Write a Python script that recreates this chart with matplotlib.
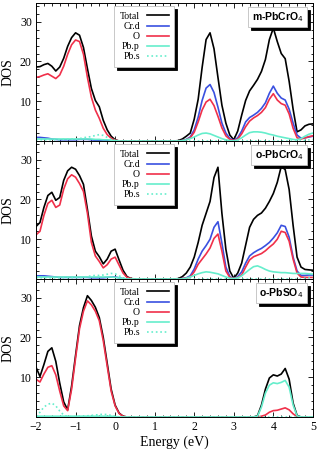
import numpy as np
import matplotlib
matplotlib.use("Agg")
import matplotlib.pyplot as plt
from matplotlib.ticker import MultipleLocator

plt.rcParams["font.family"] = "serif"
plt.rcParams["font.serif"] = ["Liberation Serif", "DejaVu Serif"]

# energy grid, -2.0 ... 5.0 eV every 0.1 eV
energy = np.round(np.linspace(-2.0, 5.0, 71), 1)

labels = ["Total", "Cr.d", "O", "Pb.p", "Pb.s"]
systems = ["m-PbCrO$_4$", "o-PbCrO$_4$", "o-PbSO$_4$"]

# ---- m-PbCrO4 ----
m_total = [18.6, 18.7, 19.2, 19.5, 18.8, 17.6, 18.6, 20.8, 23.8, 26.0,
           27.2, 26.6, 23.5, 18.2, 13.2, 10.2, 8.6, 5.2, 2.8, 1.2,
           0.3, 0, 0, 0, 0, 0, 0, 0, 0, 0,
           0, 0, 0, 0, 0, 0, 0.1, 0.5, 1.2, 2.0,
           5.5, 10.5, 18.5, 25.5, 27.2, 23.2, 16.0, 9.0, 4.5, 1.5,
           0.3, 2.5, 6.5, 10.2, 12.6, 14.0, 15.5, 17.5, 20.5, 25.5,
           28.4, 25.0, 22.0, 20.7, 15.0, 8.0, 2.3, 2.8, 3.8, 4.2, 4.3]
m_crd = [0.9, 0.9, 0.8, 0.7, 0.5, 0.4, 0.3, 0.3, 0.3, 0.3,
         0.3, 0.4, 0.4, 0.4, 0.3, 0.2, 0.2, 0.1, 0.1, 0,
         0, 0, 0, 0, 0, 0, 0, 0, 0, 0,
         0, 0, 0, 0, 0, 0, 0, 0.1, 0.4, 1.0,
         2.8, 6.0, 10.2, 13.3, 14.2, 12.2, 8.5, 4.5, 2.0, 0.6,
         0.2, 0.8, 2.5, 4.8, 5.9, 6.5, 7.2, 8.2, 9.6, 12.0,
         13.8, 12.0, 10.8, 10.3, 8.0, 4.5, 1.5, 0.7, 0.8, 1.0, 1.2]
m_o = [16.0, 16.2, 16.6, 16.9, 16.3, 15.7, 16.6, 18.8, 21.8, 24.2,
       25.4, 25.0, 21.8, 16.0, 11.0, 7.8, 5.7, 3.2, 1.6, 0.7,
       0.2, 0, 0, 0, 0, 0, 0, 0, 0, 0,
       0, 0, 0, 0, 0, 0, 0, 0.1, 0.3, 0.8,
       2.2, 4.8, 7.8, 9.8, 10.5, 8.9, 6.2, 3.3, 1.3, 0.4,
       0.1, 0.5, 1.8, 3.6, 5.0, 5.8, 6.4, 7.2, 8.4, 10.5,
       11.9, 10.3, 9.4, 9.0, 6.8, 3.2, 0.8, 0.5, 0.8, 1.1, 1.3]
m_pbp = [0.5, 0.5, 0.5, 0.5, 0.5, 0.5, 0.5, 0.5, 0.5, 0.5,
         0.5, 0.5, 0.5, 0.5, 0.5, 0.4, 0.4, 0.3, 0.3, 0.2,
         0.1, 0, 0, 0, 0, 0, 0, 0, 0, 0,
         0, 0, 0, 0, 0, 0, 0, 0.1, 0.3, 0.6,
         1.0, 1.5, 1.9, 2.0, 1.8, 1.4, 1.0, 0.6, 0.3, 0.1,
         0, 0.3, 0.8, 1.5, 2.1, 2.3, 2.3, 2.2, 2.0, 1.7,
         1.5, 1.2, 1.0, 0.8, 0.6, 0.4, 0.3, 0.6, 1.2, 1.7, 2.0]
m_pbs = [0.3, 0.3, 0.3, 0.3, 0.3, 0.3, 0.3, 0.4, 0.4, 0.5,
         0.5, 0.6, 0.8, 1.0, 1.1, 1.4, 1.6, 1.4, 0.9, 0.4,
         0.1, 0, 0, 0, 0, 0, 0, 0, 0, 0,
         0, 0, 0, 0, 0, 0, 0, 0, 0, 0,
         0, 0, 0, 0, 0, 0, 0, 0, 0, 0,
         0, 0, 0, 0, 0, 0, 0, 0, 0, 0,
         0, 0, 0, 0, 0, 0, 0, 0, 0.2, 0.3, 0.4]

# ---- o-PbCrO4 ----
o_total = [13.2, 14.2, 18.0, 21.0, 21.8, 19.8, 20.5, 24.8, 27.2, 28.1,
           27.6, 26.0, 23.8, 17.5, 10.8, 7.0, 5.6, 3.8, 5.0, 7.0,
           7.5, 4.8, 2.2, 0.6, 0.1, 0, 0, 0, 0, 0,
           0, 0, 0, 0, 0, 0, 0.1, 0.6, 1.5, 3.0,
           5.5, 9.2, 13.5, 16.5, 19.5, 25.5, 28.1, 16.5, 7.5, 2.0,
           0.2, 1.5, 4.0, 8.5, 13.0, 15.0, 16.0, 16.6, 17.8, 19.5,
           21.5, 24.3, 28.3, 27.5, 22.5, 13.5, 5.5, 3.0, 2.4, 2.3, 2.2]
o_crd = [0.8, 0.8, 0.8, 0.7, 0.6, 0.5, 0.4, 0.4, 0.4, 0.4,
         0.4, 0.4, 0.4, 0.4, 0.3, 0.3, 0.3, 0.3, 0.4, 0.5,
         0.5, 0.3, 0.1, 0, 0, 0, 0, 0, 0, 0,
         0, 0, 0, 0, 0, 0, 0, 0.1, 0.3, 0.8,
         2.5, 5.0, 7.0, 8.4, 10.0, 13.0, 14.4, 9.0, 3.0, 0.6,
         0.1, 0.6, 1.8, 4.0, 5.8, 6.6, 7.2, 7.7, 8.4, 9.2,
         10.3, 11.6, 13.5, 13.2, 10.5, 5.5, 2.0, 0.9, 0.9, 1.0, 1.0]
o_o = [11.1, 12.0, 16.0, 19.0, 19.8, 18.0, 18.6, 22.6, 25.2, 26.2,
       25.6, 24.0, 22.0, 16.5, 9.2, 5.8, 4.4, 2.8, 3.6, 5.0,
       5.5, 3.5, 1.5, 0.4, 0.1, 0, 0, 0, 0, 0,
       0, 0, 0, 0, 0, 0, 0, 0.1, 0.2, 0.5,
       1.8, 3.7, 5.0, 6.3, 7.8, 10.2, 11.3, 7.0, 2.0, 0.4,
       0.1, 0.4, 1.0, 3.0, 4.8, 5.6, 6.0, 6.4, 7.1, 8.0,
       8.8, 10.0, 12.0, 11.7, 9.5, 5.0, 1.5, 0.5, 0.4, 0.4, 0.4]
o_pbp = [0.5, 0.5, 0.5, 0.5, 0.5, 0.5, 0.5, 0.5, 0.5, 0.5,
         0.5, 0.5, 0.5, 0.5, 0.5, 0.5, 0.5, 0.5, 0.5, 0.5,
         0.4, 0.3, 0.1, 0, 0, 0, 0, 0, 0, 0,
         0, 0, 0, 0, 0, 0, 0, 0, 0.2, 0.5,
         0.9, 1.3, 1.6, 1.8, 1.7, 1.5, 1.3, 0.9, 0.5, 0.2,
         0.1, 0.3, 0.8, 1.6, 2.4, 3.1, 3.3, 2.9, 2.4, 2.0,
         1.8, 1.7, 1.6, 1.6, 1.5, 1.4, 1.4, 1.4, 1.4, 1.3, 1.2]
o_pbs = [0.3, 0.3, 0.3, 0.3, 0.3, 0.3, 0.3, 0.3, 0.3, 0.3,
         0.3, 0.3, 0.5, 0.6, 0.8, 0.9, 0.9, 1.0, 1.2, 1.4,
         1.3, 0.8, 0.3, 0.1, 0, 0, 0, 0, 0, 0,
         0, 0, 0, 0, 0, 0, 0, 0, 0, 0,
         0, 0, 0, 0, 0, 0, 0, 0, 0, 0,
         0, 0, 0, 0, 0, 0, 0, 0, 0, 0,
         0, 0, 0, 0, 0, 0, 0, 0, 0.2, 0.3, 0.4]

# ---- o-PbSO4 (no Cr) ----
s_total = [12.5, 10.2, 13.2, 16.5, 17.4, 14.0, 8.5, 3.8, 1.8, 7.8,
           15.5, 23.0, 27.5, 30.5, 29.3, 27.6, 25.0, 20.0, 13.5, 7.0,
           3.0, 1.0, 0.2, 0, 0, 0, 0, 0, 0, 0,
           0, 0, 0, 0, 0, 0, 0, 0, 0, 0,
           0, 0, 0, 0, 0, 0, 0, 0, 0, 0,
           0, 0, 0, 0, 0, 0, 0.3, 3.0, 7.0, 9.8,
           10.6, 10.3, 10.8, 12.2, 9.5, 3.5, 0.4, 0, 0, 0, 0]
s_crd = None
s_o = [9.5, 8.8, 10.8, 12.5, 12.9, 10.6, 6.5, 2.8, 1.6, 7.0,
       14.8, 22.2, 26.6, 29.2, 28.2, 26.6, 24.2, 19.2, 12.8, 6.5,
       2.8, 0.9, 0.2, 0, 0, 0, 0, 0, 0, 0,
       0, 0, 0, 0, 0, 0, 0, 0, 0, 0,
       0, 0, 0, 0, 0, 0, 0, 0, 0, 0,
       0, 0, 0, 0, 0, 0, 0, 0.2, 0.5, 1.2,
       1.6, 1.7, 2.0, 2.3, 1.8, 0.8, 0.1, 0, 0, 0, 0]
s_pbp = [0.2, 0.2, 0.2, 0.2, 0.2, 0.2, 0.2, 0.2, 0.2, 0.2,
         0.2, 0.2, 0.2, 0.2, 0.2, 0.2, 0.2, 0.2, 0.2, 0.2,
         0.1, 0, 0, 0, 0, 0, 0, 0, 0, 0,
         0, 0, 0, 0, 0, 0, 0, 0, 0, 0,
         0, 0, 0, 0, 0, 0, 0, 0, 0, 0,
         0, 0, 0, 0, 0, 0, 0.2, 2.5, 6.0, 8.0,
         8.6, 8.4, 8.7, 9.2, 7.5, 3.0, 0.3, 0, 0, 0, 0]
s_pbs = [0.2, 1.2, 2.5, 3.2, 3.5, 2.8, 1.5, 0.5, 0.1, 0.1,
         0.1, 0.2, 0.2, 0.3, 0.4, 0.5, 0.6, 0.7, 0.6, 0.4,
         0.2, 0, 0, 0, 0, 0, 0, 0, 0, 0,
         0, 0, 0, 0, 0, 0, 0, 0, 0, 0,
         0, 0, 0, 0, 0, 0, 0, 0, 0, 0,
         0, 0, 0, 0, 0, 0, 0, 0, 0, 0,
         0, 0, 0, 0, 0, 0, 0, 0, 0, 0, 0]

panels = [[m_total, m_crd, m_o, m_pbp, m_pbs],
          [o_total, o_crd, o_o, o_pbp, o_pbs],
          [s_total, s_crd, s_o, s_pbp, s_pbs]]

colors = ["black", "#3a50e0", "#f0304a", "#66eecc", "#66eecc"]
styles = ["-", "-", "-", "-", ":"]

fig, axes = plt.subplots(3, 1, figsize=(3.17, 4.54), dpi=100, sharex=True)
fig.subplots_adjust(left=0.1136, right=0.987, top=0.9934, bottom=0.0815, hspace=0)

shadow = {"color": "black", "alpha": 1}

for ax, series, name in zip(axes, panels, systems):
    handles = []
    for vals, lab, c, ls in zip(series, labels, colors, styles):
        if vals is None:
            h, = ax.plot([], [], color=c, ls=ls, lw=1.2)
        else:
            h, = ax.plot(energy, vals, color=c, ls=ls, lw=1.2)
        handles.append(h)

    ax.set_xlim(-2, 5)
    ax.set_ylim(0, 34.7)
    ax.set_yticks([10, 20, 30])
    ax.xaxis.set_major_locator(MultipleLocator(1))
    ax.xaxis.set_minor_locator(MultipleLocator(0.2))
    ax.yaxis.set_minor_locator(MultipleLocator(2))
    ax.tick_params(which="both", direction="in", top=True, right=True,
                   labelsize=8.5, width=0.6, pad=3)
    ax.tick_params(which="major", length=3.5)
    ax.tick_params(which="minor", length=1.8)
    for sp in ax.spines.values():
        sp.set_linewidth(0.7)
    ax.set_ylabel("DOS", fontsize=10, labelpad=4)

    leg = ax.legend(handles, labels, loc="upper left", bbox_to_anchor=(0.283, 0.975),
                    markerfirst=False, alignment="right", fontsize=7,
                    fancybox=False, shadow=shadow,
                    edgecolor="0.75", framealpha=1, handlelength=2.3,
                    labelspacing=0.12, borderpad=0.55, handletextpad=0.7,
                    borderaxespad=0)
    leg.get_frame().set_linewidth(0.6)
    ax.add_artist(leg)

    # system name in a shadowed box (legend with a title only)
    tag = ax.legend(handles=[], labels=[], title=name, loc="upper right",
                    bbox_to_anchor=(0.978, 0.972), borderaxespad=0,
                    fancybox=False, shadow=shadow, edgecolor="0.75",
                    framealpha=1, fontsize=6, borderpad=0.4, labelspacing=0,
                    title_fontproperties={"family": "Liberation Sans",
                                          "weight": "bold", "size": 7.5})
    tag.get_frame().set_linewidth(0.6)

axes[-1].set_xlabel("Energy (eV)", fontsize=10, labelpad=2)

fig.savefig("out.png", dpi=100)
